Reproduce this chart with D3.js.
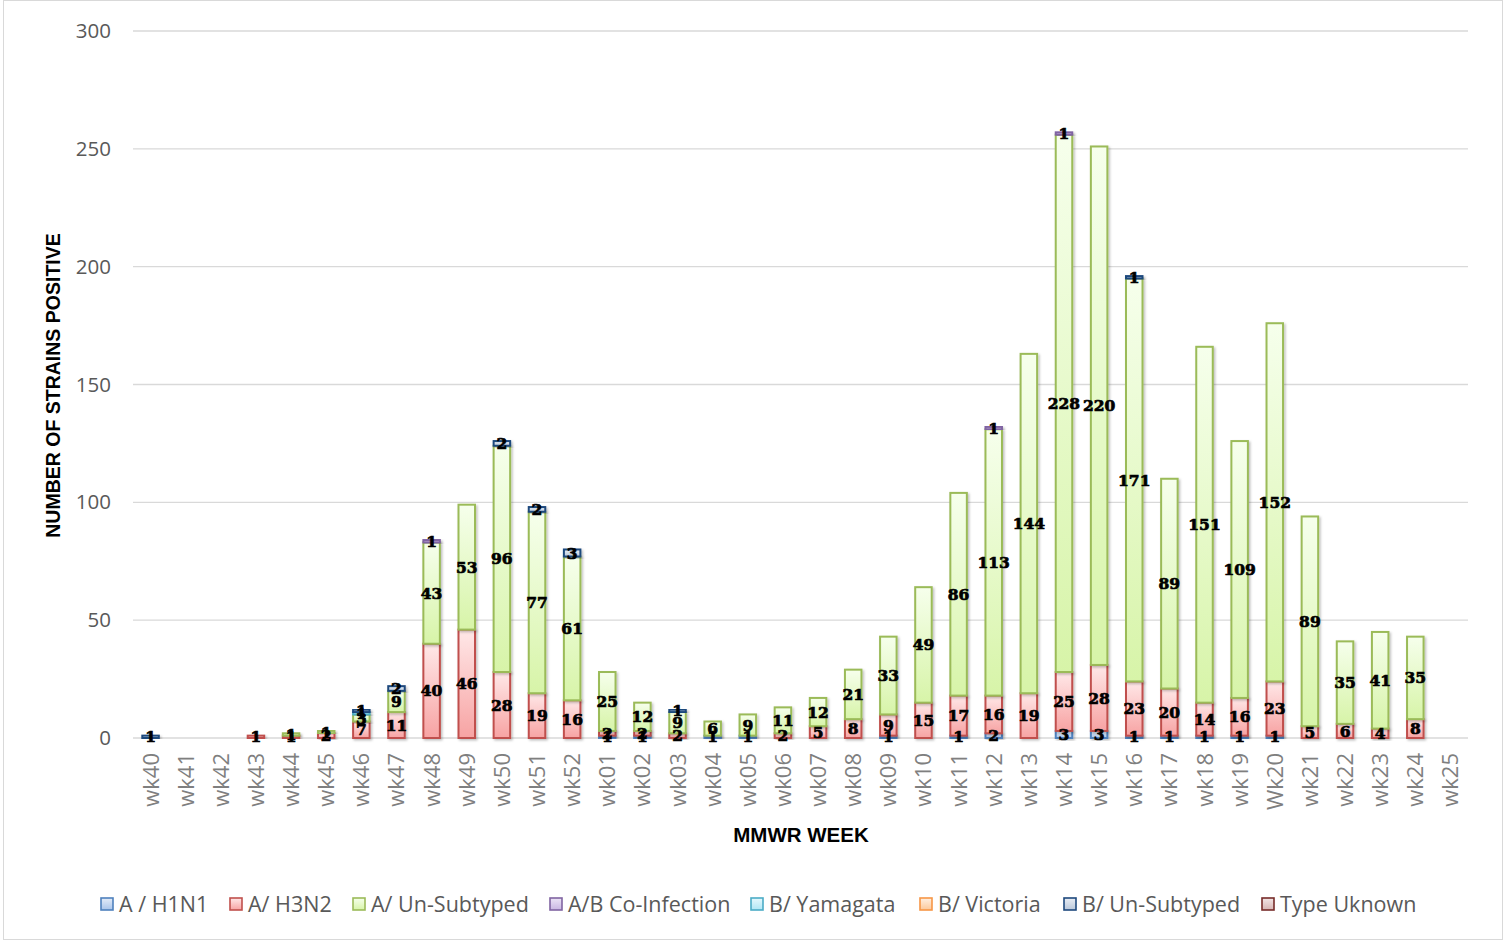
<!DOCTYPE html>
<html>
<head>
<meta charset="utf-8">
<script src="https://cdn.jsdelivr.net/npm/d3@7"></script>
<style>
  body { margin: 0; background: #fff; }
  svg { display: block; }
</style>
</head>
<body>
<div id="chart"></div>
<script>
// Categories
const weeks = ["wk40","wk41","wk42","wk43","wk44","wk45","wk46","wk47","wk48","wk49","wk50","wk51","wk52",
  "wk01","wk02","wk03","wk04","wk05","wk06","wk07","wk08","wk09","wk10","wk11","wk12","wk13","wk14",
  "wk15","wk16","wk17","wk18","wk19","Wk20","wk21","wk22","wk23","wk24","wk25"]

// Series values (one per week)
const h1n1 = [0,0,0,0,0,0,0,0,0,0,0,0,0, 1,1,0,1,1,0,0,0,1,0,1,2,0,3,3,1,1,1,1,1,0,0,0,0,0]
const h3n2 = [0,0,0,1,1,2,7,11,40,46,28,19,16, 2,2,2,0,0,2,5,8,9,15,17,16,19,25,28,23,20,14,16,23,5,6,4,8,0]
const aUnsub = [0,0,0,0,1,1,3,9,43,53,96,77,61, 25,12,9,6,9,11,12,21,33,49,86,113,144,228,220,171,89,151,109,152,89,35,41,35,0]
const coInf = [0,0,0,0,0,0,0,0,1,0,0,0,0, 0,0,0,0,0,0,0,0,0,0,0,1,0,1,0,0,0,0,0,0,0,0,0,0,0]
const yamagata = [0,0,0,0,0,0,1,0,0,0,0,0,0, 0,0,0,0,0,0,0,0,0,0,0,0,0,0,0,0,0,0,0,0,0,0,0,0,0]
const victoria = [0,0,0,0,0,0,0,0,0,0,0,0,0, 0,0,0,0,0,0,0,0,0,0,0,0,0,0,0,0,0,0,0,0,0,0,0,0,0]
const bUnsub = [1,0,0,0,0,0,1,2,0,0,2,2,3, 0,0,1,0,0,0,0,0,0,0,0,0,0,0,0,1,0,0,0,0,0,0,0,0,0]
const typeUnknown = [0,0,0,0,0,0,0,0,0,0,0,0,0, 0,0,0,0,0,0,0,0,0,0,0,0,0,0,0,0,0,0,0,0,0,0,0,0,0]

const seriesNames = ["A / H1N1","A/ H3N2","A/ Un-Subtyped","A/B Co-Infection","B/ Yamagata","B/ Victoria","B/ Un-Subtyped","Type Uknown"]
const seriesValues = [h1n1, h3n2, aUnsub, coInf, yamagata, victoria, bUnsub, typeUnknown]
const yTicks = [0, 50, 100, 150, 200, 250, 300]

// Styles: stroke, gradient top, gradient bottom
const styles = [
  { stroke: "#4f81bd", top: "#e4ecf8", bottom: "#a9c4ea" },
  { stroke: "#c0504d", top: "#ffe8e8", bottom: "#f7a3a3" },
  { stroke: "#9bbb59", top: "#f6ffec", bottom: "#d7f4a8" },
  { stroke: "#8064a2", top: "#ece4f6", bottom: "#c9b6e2" },
  { stroke: "#4bacc6", top: "#e6f8fd", bottom: "#b0e6f5" },
  { stroke: "#f79646", top: "#fff0e2", bottom: "#fcc89a" },
  { stroke: "#1f497d", top: "#e9eef5", bottom: "#b9c7da" },
  { stroke: "#772c2a", top: "#f3e6e6", bottom: "#d6b4b3" }
]

const width = 1505, height = 941
const margin = { left: 133, right: 37, top: 31, bottom: 203 }

const svg = d3.select("#chart").append("svg")
  .attr("width", width)
  .attr("height", height)

// chart border
svg.append("rect")
  .attr("x", 3.5).attr("y", 0.5)
  .attr("width", width - 6).attr("height", height - 2)
  .attr("fill", "#fff")
  .attr("stroke", "#d9d9d9")

const defs = svg.append("defs")
styles.forEach((s, i) => {
  const g = defs.append("linearGradient")
    .attr("id", "grad" + i)
    .attr("x1", 0).attr("y1", 0).attr("x2", 0).attr("y2", 1)
  g.append("stop").attr("offset", "0%").attr("stop-color", s.top)
  g.append("stop").attr("offset", "100%").attr("stop-color", s.bottom)
})
const shadow = defs.append("filter").attr("id", "shadow")
  .attr("x", "-30%").attr("y", "-30%").attr("width", "160%").attr("height", "160%")
shadow.append("feDropShadow")
  .attr("dx", 1.5).attr("dy", 1.5).attr("stdDeviation", 1.2)
  .attr("flood-color", "#000").attr("flood-opacity", 0.25)

const x = d3.scaleBand()
  .domain(weeks)
  .range([margin.left, width - margin.right])
  .paddingInner(0.53)
  .paddingOuter(0.265)

const y = d3.scaleLinear()
  .domain([0, 300])
  .range([height - margin.bottom, margin.top])

// Gridlines
svg.append("g")
  .selectAll("line")
  .data(yTicks)
  .join("line")
  .attr("x1", margin.left)
  .attr("x2", width - margin.right)
  .attr("y1", d => y(d))
  .attr("y2", d => y(d))
  .attr("stroke", "#d9d9d9")
  .attr("stroke-width", 1.3)

// Y tick labels
const yAxis = svg.append("g")
  .attr("transform", `translate(${margin.left - 22},0)`)
  .call(d3.axisLeft(y).tickValues(yTicks).tickSize(0).tickPadding(0))
yAxis.select(".domain").remove()
yAxis.selectAll("text")
  .attr("font-family", "'Open Sans', sans-serif")
  .attr("font-size", 20.5)
  .attr("fill", "#595959")

// X tick labels
const xAxis = svg.append("g")
  .attr("transform", `translate(0,${y(0)})`)
  .call(d3.axisBottom(x).tickSize(0).tickPadding(0))
xAxis.select(".domain").remove()
xAxis.selectAll("text")
  .attr("font-family", "'Open Sans', sans-serif")
  .attr("font-size", 22)
  .attr("fill", "#7f7f7f")
  .attr("text-anchor", "end")
  .attr("dy", null)
  .attr("y", 0)
  .attr("transform", "translate(8,15) rotate(-90)")

// Stack
const rows = weeks.map((w, i) => {
  const r = { week: w }
  seriesNames.forEach((n, k) => { r[n] = seriesValues[k][i] })
  return r
})
const stacked = d3.stack().keys(seriesNames)(rows)

const bars = svg.append("g")
stacked.forEach((layer, k) => {
  bars.append("g")
    .selectAll("rect")
    .data(layer.filter(d => d[1] - d[0] > 0))
    .join("rect")
    .attr("x", d => x(d.data.week))
    .attr("y", d => y(d[1]))
    .attr("width", x.bandwidth())
    .attr("height", d => y(d[0]) - y(d[1]))
    .attr("fill", `url(#grad${k})`)
    .attr("stroke", styles[k].stroke)
    .attr("stroke-width", 2)
    .attr("filter", "url(#shadow)")
})

// Data labels
const labels = svg.append("g")
stacked.forEach((layer) => {
  labels.append("g")
    .selectAll("text")
    .data(layer.filter(d => d[1] - d[0] > 0))
    .join("text")
    .attr("x", d => x(d.data.week) + x.bandwidth() / 2)
    .attr("y", d => y((d[0] + d[1]) / 2))
    .attr("dy", "0.36em")
    .attr("text-anchor", "middle")
    .attr("font-family", "'DejaVu Serif', serif")
    .attr("font-weight", "bold")
    .attr("font-size", 15.5)
    .attr("fill", "#000")
    .attr("stroke", "#000")
    .attr("stroke-width", 0.7)
    .text(d => d[1] - d[0])
})

// Axis titles
svg.append("text")
  .attr("transform", `translate(60,${(y(0) + y(300)) / 2 + 1}) rotate(-90)`)
  .attr("text-anchor", "middle")
  .attr("font-family", "'Liberation Sans', sans-serif")
  .attr("font-weight", "bold")
  .attr("font-size", 19.5)
  .attr("fill", "#000")
  .text("NUMBER OF STRAINS POSITIVE")

svg.append("text")
  .attr("x", 801)
  .attr("y", 842)
  .attr("text-anchor", "middle")
  .attr("font-family", "'Liberation Sans', sans-serif")
  .attr("font-weight", "bold")
  .attr("font-size", 20.5)
  .attr("fill", "#000")
  .text("MMWR WEEK")

// Legend
const legendX = [101, 230, 353, 550, 751, 920, 1064, 1262]
const legend = svg.append("g")
  .selectAll("g")
  .data(seriesNames)
  .join("g")
  .attr("transform", (d, i) => `translate(${legendX[i]},904)`)

legend.append("rect")
  .attr("x", 0).attr("y", -6)
  .attr("width", 12).attr("height", 12)
  .attr("fill", (d, i) => `url(#grad${i})`)
  .attr("stroke", (d, i) => styles[i].stroke)
  .attr("stroke-width", 1.6)

legend.append("text")
  .attr("x", 18)
  .attr("dy", "0.35em")
  .attr("font-family", "'Open Sans', sans-serif")
  .attr("font-size", 21.5)
  .attr("fill", "#595959")
  .text(d => d)
</script>
</body>
</html>
